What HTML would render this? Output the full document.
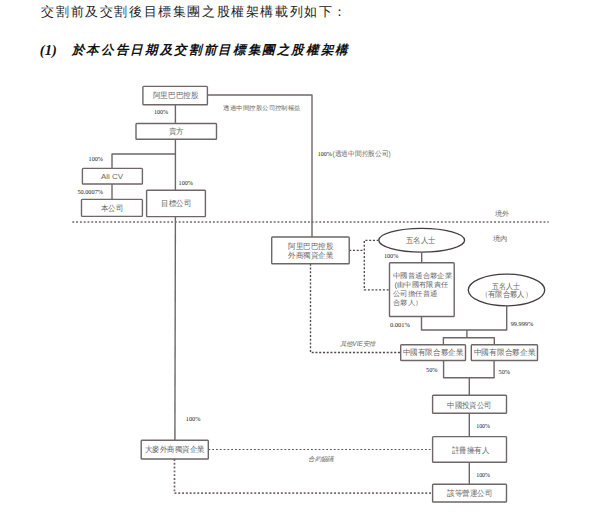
<!DOCTYPE html>
<html lang="zh-Hant"><head><meta charset="utf-8">
<style>
html,body{margin:0;padding:0;background:#fff;width:600px;height:523px;overflow:hidden}
svg{display:block}
.g path,.g rect,.g ellipse{fill:none;stroke:#6f6667;stroke-width:1.4;stroke-linejoin:round}
.g rect,.g ellipse{fill:#fff}
.g ellipse{stroke:#453d3e;stroke-width:1.35}
.d path{fill:none;stroke:#4f4748;stroke-width:1.35;stroke-dasharray:2 1.75}
.d path.md{stroke:#5a5253;stroke-width:1.1;stroke-dasharray:1.8 2}
.d path.lg{stroke:#706869;stroke-width:1.7;stroke-dasharray:1.9 1.9}
text{font-family:"Liberation Sans",sans-serif;fill:#666}
.n{font-family:"Liberation Serif",serif;fill:#1a1a1a}
.i{font-style:italic}
.title{font-family:"Liberation Serif",serif;font-size:13px;fill:#222}
.h1{font-family:"Liberation Serif",serif;font-size:14px;font-weight:bold;font-style:italic;fill:#111}
.h2{font-family:"Liberation Sans",sans-serif;font-size:12.5px;font-weight:bold;font-style:italic;fill:#111}
</style></head><body>
<svg width="600" height="523" viewBox="0 0 600 523">
<g class="d">
<path class="lg" d="M72.3,222 L548.7,222"/>
<path d="M349.2,250.3 L364.3,250.3"/>
<path d="M378.7,240.3 L364.3,240.3 L364.3,289.8 L389.5,289.8"/>
<path d="M310.5,263.7 L310.5,352.5 L400.7,352.5"/>
<path class="md" d="M208.4,449.5 L432.6,449.5"/>
<path class="lg" d="M174.5,459 L174.5,493.2 L432.6,493.2"/>
</g>
<g class="g">
<rect rx="0.8" x="142.9" y="86.4" width="64.50" height="18.30"/>
<rect rx="0.8" x="136" y="123.5" width="80.50" height="15.80"/>
<rect rx="0.8" x="82.4" y="168.4" width="60.00" height="15.60"/>
<rect rx="0.8" x="81.5" y="199.4" width="60.90" height="17.00"/>
<rect rx="0.8" x="146.6" y="190.2" width="58.80" height="26.40"/>
<rect rx="0.8" x="271.7" y="237" width="77.50" height="26.70"/>
<rect rx="0.8" x="389.5" y="262.8" width="64.70" height="53.70"/>
<rect rx="0.8" x="400.7" y="344.8" width="64.80" height="15.70"/>
<rect rx="0.8" x="471.3" y="344.8" width="66.20" height="15.70"/>
<rect rx="0.8" x="432.6" y="395.3" width="73.90" height="18.00"/>
<rect rx="0.8" x="432.6" y="436.6" width="73.90" height="25.70"/>
<rect rx="0.8" x="432.6" y="484.3" width="73.90" height="17.70"/>
<rect rx="0.8" x="141.2" y="440.2" width="67.10" height="18.80"/>
<ellipse cx="421.7" cy="240.2" rx="42.9" ry="11.9"/>
<ellipse cx="506.5" cy="290" rx="38.2" ry="15.9"/>
<path d="M175.4,105 L175.4,123.5"/>
<path d="M208,95 L312,95 L312,237"/>
<path d="M175.4,139.3 L175.4,190.2"/>
<path d="M112,168.4 L112,154 L175.4,154"/>
<path d="M112,184 L112,199.4"/>
<path d="M175.4,216.6 L174.9,440.3"/>
<path d="M421.7,252.5 L421.7,262.8"/>
<path d="M421.5,316.7 L421.5,330 L506.7,330 L506.7,305.9"/>
<path d="M466.9,330 L466.9,337.7"/>
<path d="M443.4,344.8 L443.4,337.7 L494.3,337.7 L494.3,344.8"/>
<path d="M443.6,360.5 L443.6,377.7 L494.1,377.7 L494.1,360.5"/>
<path d="M469.3,377.7 L469.3,395.3"/>
<path d="M469.3,413.3 L469.3,436.6"/>
<path d="M469.3,462.3 L469.3,484.3"/>
</g>
<text class="t" x="152.5" y="98.20" textLength="46.00" lengthAdjust="spacingAndGlyphs" style="font-size:7.5px">阿里巴巴控股</text>
<text class="t" x="168.5" y="134.20" textLength="15.00" lengthAdjust="spacingAndGlyphs" style="font-size:7.5px">賣方</text>
<text class="s" x="101" y="179.20" textLength="22.00" lengthAdjust="spacingAndGlyphs" style="font-size:7.5px">Ali CV</text>
<text class="t" x="100.5" y="210.70" textLength="22.50" lengthAdjust="spacingAndGlyphs" style="font-size:7.5px">本公司</text>
<text class="t" x="161" y="206.20" textLength="30.00" lengthAdjust="spacingAndGlyphs" style="font-size:7.5px">目標公司</text>
<text class="t" x="288.3" y="248.50" textLength="45.00" lengthAdjust="spacingAndGlyphs" style="font-size:7.5px">阿里巴巴控股</text>
<text class="t" x="288.3" y="258.20" textLength="45.00" lengthAdjust="spacingAndGlyphs" style="font-size:7.5px">外商獨資企業</text>
<text class="t" x="392.9" y="278.16" textLength="59.40" lengthAdjust="spacingAndGlyphs" style="font-size:7.4px">中國普通合夥企業</text>
<text class="t" x="394.5" y="286.86" textLength="53.80" lengthAdjust="spacingAndGlyphs" style="font-size:7.4px">(由中國有限責任</text>
<text class="t" x="393" y="295.96" textLength="44.40" lengthAdjust="spacingAndGlyphs" style="font-size:7.4px">公司擔任普通</text>
<text class="t" x="393" y="305.06" textLength="29.60" lengthAdjust="spacingAndGlyphs" style="font-size:7.4px">合夥人）</text>
<text class="t" x="406" y="242.90" textLength="29.50" lengthAdjust="spacingAndGlyphs" style="font-size:7.5px">五名人士</text>
<text class="t" x="492" y="288.80" textLength="28.00" lengthAdjust="spacingAndGlyphs" style="font-size:7.5px">五名人士</text>
<text class="t" x="480.5" y="296.50" textLength="51.50" lengthAdjust="spacingAndGlyphs" style="font-size:7.5px">（有限合夥人）</text>
<text class="t" x="402.8" y="355.30" textLength="60.50" lengthAdjust="spacingAndGlyphs" style="font-size:7.5px">中國有限合夥企業</text>
<text class="t" x="473.5" y="355.30" textLength="62.00" lengthAdjust="spacingAndGlyphs" style="font-size:7.5px">中國有限合夥企業</text>
<text class="t" x="447.2" y="407.70" textLength="44.30" lengthAdjust="spacingAndGlyphs" style="font-size:7.5px">中國投資公司</text>
<text class="t" x="451.5" y="452.50" textLength="37.50" lengthAdjust="spacingAndGlyphs" style="font-size:7.5px">註冊擁有人</text>
<text class="t" x="447" y="496.10" textLength="45.50" lengthAdjust="spacingAndGlyphs" style="font-size:7.5px">該等營運公司</text>
<text class="t" x="144.9" y="452.30" textLength="59.70" lengthAdjust="spacingAndGlyphs" style="font-size:7.5px">大麥外商獨資企業</text>
<text class="n" x="154" y="114.30" textLength="14.20" lengthAdjust="spacingAndGlyphs" style="font-size:6.4px">100%</text>
<text class="t" x="223.3" y="109.87" textLength="77.50" lengthAdjust="spacingAndGlyphs" style="font-size:6.3px">透過中間控股公司控制權益</text>
<text class="n" x="317.7" y="156.30" textLength="14.10" lengthAdjust="spacingAndGlyphs" style="font-size:6.4px">100%</text>
<text class="t" x="332.6" y="156.29" textLength="58.10" lengthAdjust="spacingAndGlyphs" style="font-size:6.65px">(透過中間控股公司)</text>
<text class="n" x="88.6" y="160.90" textLength="14.40" lengthAdjust="spacingAndGlyphs" style="font-size:6.4px">100%</text>
<text class="n" x="77.4" y="193.70" textLength="25.60" lengthAdjust="spacingAndGlyphs" style="font-size:6.4px">50.0007%</text>
<text class="n" x="178.6" y="185.30" textLength="14.40" lengthAdjust="spacingAndGlyphs" style="font-size:6.4px">100%</text>
<text class="t" x="495" y="216.02" textLength="14.50" lengthAdjust="spacingAndGlyphs" style="font-size:7.0px">境外</text>
<text class="t" x="492.7" y="240.52" textLength="14.70" lengthAdjust="spacingAndGlyphs" style="font-size:7.0px">境內</text>
<text class="n" x="383.9" y="258.30" textLength="14.40" lengthAdjust="spacingAndGlyphs" style="font-size:6.4px">100%</text>
<text class="n" x="390" y="327.30" textLength="20.00" lengthAdjust="spacingAndGlyphs" style="font-size:6.4px">0.001%</text>
<text class="n" x="510.7" y="326.30" textLength="22.60" lengthAdjust="spacingAndGlyphs" style="font-size:6.4px">99.999%</text>
<text class="i" x="340" y="346.07" textLength="35.20" lengthAdjust="spacingAndGlyphs" style="font-size:6.3px">其他VIE安排</text>
<text class="n" x="426" y="372.20" textLength="11.50" lengthAdjust="spacingAndGlyphs" style="font-size:6.4px">50%</text>
<text class="n" x="498.5" y="373.50" textLength="11.50" lengthAdjust="spacingAndGlyphs" style="font-size:6.4px">50%</text>
<text class="n" x="185.8" y="421.00" textLength="14.60" lengthAdjust="spacingAndGlyphs" style="font-size:6.4px">100%</text>
<text class="n" x="476.2" y="428.10" textLength="13.80" lengthAdjust="spacingAndGlyphs" style="font-size:6.4px">100%</text>
<text class="n" x="476.2" y="476.70" textLength="13.80" lengthAdjust="spacingAndGlyphs" style="font-size:6.4px">100%</text>
<text class="i" x="308.3" y="461.47" textLength="25.00" lengthAdjust="spacingAndGlyphs" style="font-size:6.3px">合約協議</text>
<text class="title" x="41.3" y="16.3" textLength="305" lengthAdjust="spacing">交割前及交割後目標集團之股權架構載列如下：</text>
<text class="h1" x="39.8" y="54.6" textLength="17" lengthAdjust="spacingAndGlyphs">(1)</text>
<text class="h2" x="71.7" y="54" textLength="276.7" lengthAdjust="spacing">於本公告日期及交割前目標集團之股權架構</text>
</svg>
</body></html>
